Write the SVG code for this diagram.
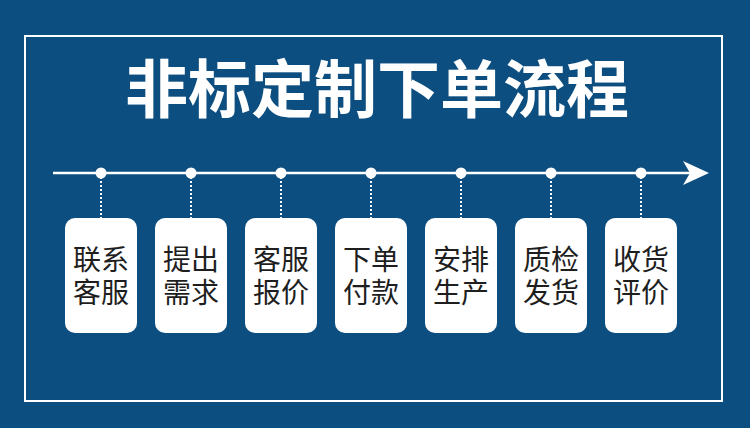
<svg xmlns="http://www.w3.org/2000/svg" width="750" height="428" viewBox="0 0 750 428">
<defs>
<style>
.box{fill:#ffffff}
.lbl{font-family:"Noto Sans CJK SC","Noto Sans",sans-serif;font-size:28px;fill:#1e1e1e;text-anchor:middle}
.dot{fill:#ffffff}
.dash{stroke:#ffffff;stroke-width:2;stroke-dasharray:2 2}
</style>
</defs>
<rect x="0" y="0" width="750" height="428" fill="#0c4e7f"/>
<rect x="25" y="36" width="697" height="365" fill="none" stroke="#ffffff" stroke-width="2"/>
<text x="377" y="112" font-family="'Noto Sans CJK SC',sans-serif" font-size="63" font-weight="bold" fill="#ffffff" text-anchor="middle">非标定制下单流程</text>
<g id="connectors">
<line x1="53" y1="173" x2="690" y2="173" stroke="#ffffff" stroke-width="2.5"/>
<polygon points="709,173 683,161 690,173 683,185" fill="#ffffff"/>
<line class="dash" x1="101" y1="173" x2="101" y2="218"/>
<line class="dash" x1="191" y1="173" x2="191" y2="218"/>
<line class="dash" x1="281" y1="173" x2="281" y2="218"/>
<line class="dash" x1="371" y1="173" x2="371" y2="218"/>
<line class="dash" x1="461" y1="173" x2="461" y2="218"/>
<line class="dash" x1="551" y1="173" x2="551" y2="218"/>
<line class="dash" x1="641" y1="173" x2="641" y2="218"/>
<circle class="dot" cx="101" cy="173" r="5.5"/>
<circle class="dot" cx="191" cy="173" r="5.5"/>
<circle class="dot" cx="281" cy="173" r="5.5"/>
<circle class="dot" cx="371" cy="173" r="5.5"/>
<circle class="dot" cx="461" cy="173" r="5.5"/>
<circle class="dot" cx="551" cy="173" r="5.5"/>
<circle class="dot" cx="641" cy="173" r="5.5"/>
</g>
<g id="n1"><rect class="box" x="65" y="218" width="72" height="115" rx="10"/><text class="lbl" x="101" y="270">联系<tspan x="101" dy="33">客服</tspan></text></g>
<g id="n2"><rect class="box" x="155" y="218" width="72" height="115" rx="10"/><text class="lbl" x="191" y="270">提出<tspan x="191" dy="33">需求</tspan></text></g>
<g id="n3"><rect class="box" x="245" y="218" width="72" height="115" rx="10"/><text class="lbl" x="281" y="270">客服<tspan x="281" dy="33">报价</tspan></text></g>
<g id="n4"><rect class="box" x="335" y="218" width="72" height="115" rx="10"/><text class="lbl" x="371" y="270">下单<tspan x="371" dy="33">付款</tspan></text></g>
<g id="n5"><rect class="box" x="425" y="218" width="72" height="115" rx="10"/><text class="lbl" x="461" y="270">安排<tspan x="461" dy="33">生产</tspan></text></g>
<g id="n6"><rect class="box" x="515" y="218" width="72" height="115" rx="10"/><text class="lbl" x="551" y="270">质检<tspan x="551" dy="33">发货</tspan></text></g>
<g id="n7"><rect class="box" x="605" y="218" width="72" height="115" rx="10"/><text class="lbl" x="641" y="270">收货<tspan x="641" dy="33">评价</tspan></text></g>
</svg>
